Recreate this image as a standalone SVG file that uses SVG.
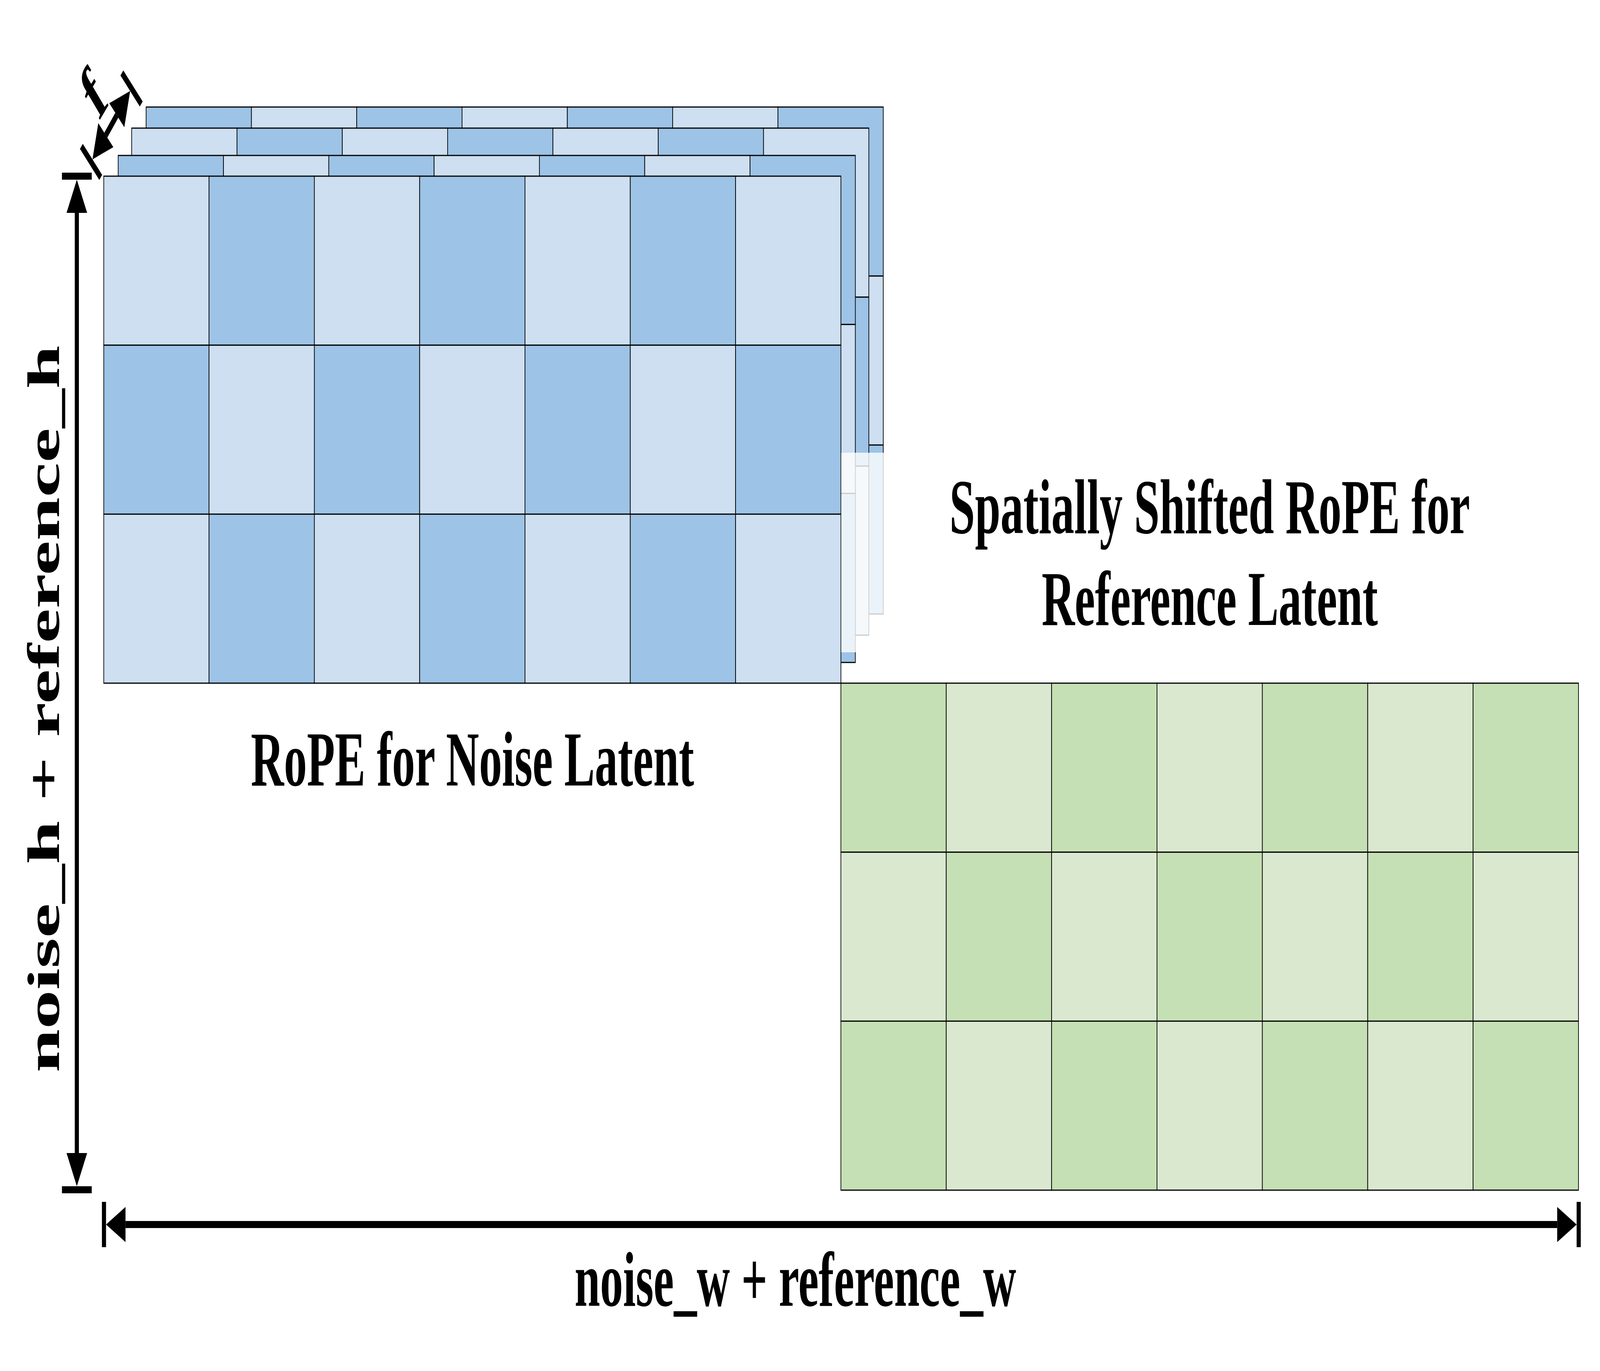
<svg xmlns="http://www.w3.org/2000/svg" xmlns:xlink="http://www.w3.org/1999/xlink" width="6986" height="3510" viewBox="0 0 6986 3510" preserveAspectRatio="none">
<style>
svg{width:100vw;height:100vh}
.lb{fill:#CDDFF0;stroke:#000;stroke-width:3}
.db{fill:#9DC3E6;stroke:#000;stroke-width:3}
.lg{fill:#DAE8D0;stroke:#000;stroke-width:3}
.dg{fill:#C5E0B4;stroke:#000;stroke-width:3}
.dim{stroke:#000;stroke-width:18;fill:none}
.t{font-family:"Liberation Serif","Times New Roman",serif;font-weight:bold;font-size:200px;fill:#000}
</style>
<defs>
<marker id="capS" markerUnits="userSpaceOnUse" orient="auto-start-reverse" refX="0" refY="0" markerWidth="120" markerHeight="140" overflow="visible">
<path d="M0,-45 L85,0 L0,45 Z" fill="#000"/><rect x="85" y="-58" width="18" height="116" fill="#000"/>
</marker>
<marker id="capV" markerUnits="userSpaceOnUse" orient="auto-start-reverse" refX="0" refY="0" markerWidth="120" markerHeight="150" overflow="visible">
<path d="M0,-45 L85,0 L0,45 Z" fill="#000"/><rect x="85" y="-65" width="18" height="130" fill="#000"/>
</marker>
<g id="boardA">
<rect class="lb" x="0" y="0" width="459.8" height="432.7"/><rect class="db" x="459.8" y="0" width="459.8" height="432.7"/><rect class="lb" x="919.6" y="0" width="459.8" height="432.7"/><rect class="db" x="1379.4" y="0" width="459.8" height="432.7"/><rect class="lb" x="1839.2" y="0" width="459.8" height="432.7"/><rect class="db" x="2299" y="0" width="459.8" height="432.7"/><rect class="lb" x="2758.8" y="0" width="459.8" height="432.7"/>
<rect class="db" x="0" y="432.7" width="459.8" height="432.7"/><rect class="lb" x="459.8" y="432.7" width="459.8" height="432.7"/><rect class="db" x="919.6" y="432.7" width="459.8" height="432.7"/><rect class="lb" x="1379.4" y="432.7" width="459.8" height="432.7"/><rect class="db" x="1839.2" y="432.7" width="459.8" height="432.7"/><rect class="lb" x="2299" y="432.7" width="459.8" height="432.7"/><rect class="db" x="2758.8" y="432.7" width="459.8" height="432.7"/>
<rect class="lb" x="0" y="865.3" width="459.8" height="432.7"/><rect class="db" x="459.8" y="865.3" width="459.8" height="432.7"/><rect class="lb" x="919.6" y="865.3" width="459.8" height="432.7"/><rect class="db" x="1379.4" y="865.3" width="459.8" height="432.7"/><rect class="lb" x="1839.2" y="865.3" width="459.8" height="432.7"/><rect class="db" x="2299" y="865.3" width="459.8" height="432.7"/><rect class="lb" x="2758.8" y="865.3" width="459.8" height="432.7"/>
</g>
<g id="boardB">
<rect class="db" x="0" y="0" width="459.8" height="432.7"/><rect class="lb" x="459.8" y="0" width="459.8" height="432.7"/><rect class="db" x="919.6" y="0" width="459.8" height="432.7"/><rect class="lb" x="1379.4" y="0" width="459.8" height="432.7"/><rect class="db" x="1839.2" y="0" width="459.8" height="432.7"/><rect class="lb" x="2299" y="0" width="459.8" height="432.7"/><rect class="db" x="2758.8" y="0" width="459.8" height="432.7"/>
<rect class="lb" x="0" y="432.7" width="459.8" height="432.7"/><rect class="db" x="459.8" y="432.7" width="459.8" height="432.7"/><rect class="lb" x="919.6" y="432.7" width="459.8" height="432.7"/><rect class="db" x="1379.4" y="432.7" width="459.8" height="432.7"/><rect class="lb" x="1839.2" y="432.7" width="459.8" height="432.7"/><rect class="db" x="2299" y="432.7" width="459.8" height="432.7"/><rect class="lb" x="2758.8" y="432.7" width="459.8" height="432.7"/>
<rect class="db" x="0" y="865.3" width="459.8" height="432.7"/><rect class="lb" x="459.8" y="865.3" width="459.8" height="432.7"/><rect class="db" x="919.6" y="865.3" width="459.8" height="432.7"/><rect class="lb" x="1379.4" y="865.3" width="459.8" height="432.7"/><rect class="db" x="1839.2" y="865.3" width="459.8" height="432.7"/><rect class="lb" x="2299" y="865.3" width="459.8" height="432.7"/><rect class="db" x="2758.8" y="865.3" width="459.8" height="432.7"/>
</g>
</defs>
<rect x="0" y="0" width="6986" height="3510" fill="#fff"/>

<g id="noise-layer-3"><use href="#boardB" xlink:href="#boardB" transform="translate(638,274)"/></g>
<g id="noise-layer-2"><use href="#boardA" xlink:href="#boardA" transform="translate(575,328)"/></g>
<g id="noise-layer-1"><use href="#boardB" xlink:href="#boardB" transform="translate(516,398)"/></g>
<g id="noise-layer-front"><use href="#boardA" xlink:href="#boardA" transform="translate(453,451)"/></g>
<rect id="layer-fade" x="3673" y="1159" width="190" height="511" fill="#fff" fill-opacity="0.8"/>

<g id="reference-grid">
<rect class="dg" x="3671.5" y="1749" width="460.07" height="432.7"/><rect class="lg" x="4131.57" y="1749" width="460.07" height="432.7"/><rect class="dg" x="4591.64" y="1749" width="460.07" height="432.7"/><rect class="lg" x="5051.71" y="1749" width="460.07" height="432.7"/><rect class="dg" x="5511.78" y="1749" width="460.07" height="432.7"/><rect class="lg" x="5971.85" y="1749" width="460.07" height="432.7"/><rect class="dg" x="6431.92" y="1749" width="460.07" height="432.7"/>
<rect class="lg" x="3671.5" y="2181.7" width="460.07" height="432.7"/><rect class="dg" x="4131.57" y="2181.7" width="460.07" height="432.7"/><rect class="lg" x="4591.64" y="2181.7" width="460.07" height="432.7"/><rect class="dg" x="5051.71" y="2181.7" width="460.07" height="432.7"/><rect class="lg" x="5511.78" y="2181.7" width="460.07" height="432.7"/><rect class="dg" x="5971.85" y="2181.7" width="460.07" height="432.7"/><rect class="lg" x="6431.92" y="2181.7" width="460.07" height="432.7"/>
<rect class="dg" x="3671.5" y="2614.3" width="460.07" height="432.7"/><rect class="lg" x="4131.57" y="2614.3" width="460.07" height="432.7"/><rect class="dg" x="4591.64" y="2614.3" width="460.07" height="432.7"/><rect class="lg" x="5051.71" y="2614.3" width="460.07" height="432.7"/><rect class="dg" x="5511.78" y="2614.3" width="460.07" height="432.7"/><rect class="lg" x="5971.85" y="2614.3" width="460.07" height="432.7"/><rect class="dg" x="6431.92" y="2614.3" width="460.07" height="432.7"/>
</g>

<g id="connectors">
<line class="dim" x1="335.5" y1="545" x2="335.5" y2="2952" marker-start="url(#capV)" marker-end="url(#capV)"/>
<line class="dim" x1="548" y1="3135" x2="6799" y2="3135" marker-start="url(#capS)" marker-end="url(#capS)"/>
<line class="dim" x1="462" y1="346" x2="510" y2="295" marker-start="url(#capS)" marker-end="url(#capS)"/>
</g>

<g id="labels">
<text class="t" x="2063" y="2011" text-anchor="middle">RoPE for Noise Latent</text>
<text class="t" x="5282" y="1365" text-anchor="middle">Spatially Shifted RoPE for</text>
<text class="t" x="5282" y="1600" text-anchor="middle">Reference Latent</text>
<text class="t" x="3473" y="3343" text-anchor="middle">noise_w + reference_w</text>
<text class="t" transform="translate(257,1815) rotate(-90)" text-anchor="middle">noise_h + reference_h</text>
<text class="t" transform="translate(456,287) rotate(-45)" text-anchor="middle">f</text>
</g>
</svg>
